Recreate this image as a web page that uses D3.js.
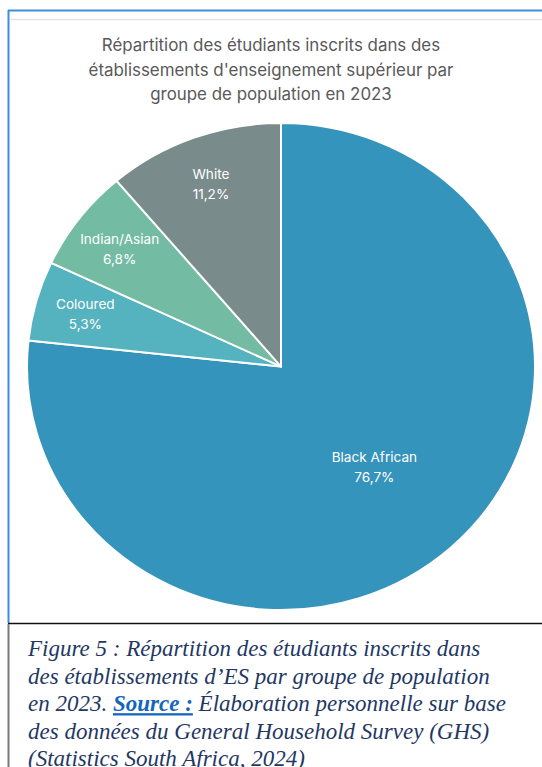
<!DOCTYPE html>
<html>
<head>
<meta charset="utf-8">
<script src="https://cdn.jsdelivr.net/npm/d3@7"></script>
<style>
  html, body { margin: 0; padding: 0; background: #fff; }
  svg { display: block; }
</style>
</head>
<body>
<svg id="chart" width="542" height="767"></svg>
<script>
// Population groups and their share of enrolled students (%)
const categories = ["Black African", "Coloured", "Indian/Asian", "White"];
const shares = [76.7, 5.3, 6.8, 11.2];
const shareLabels = ["76,7%", "5,3%", "6,8%", "11,2%"];
const sliceColors = ["#3594bb", "#55b3c0", "#73bca3", "#798b8b"];

const titleLines = [
  "Répartition des étudiants inscrits dans des",
  "établissements d'enseignement supérieur par",
  "groupe de population en 2023"
];

const svg = d3.select("#chart");

// Page frame: blue rule for the chart box, black rule and grey margin for the caption
svg.append("line").attr("x1", 8).attr("x2", 542).attr("y1", 10.5).attr("y2", 10.5)
  .attr("stroke", "#3d8fdc").attr("stroke-width", 2);
svg.append("line").attr("x1", 8.5).attr("x2", 8.5).attr("y1", 10).attr("y2", 623)
  .attr("stroke", "#3d8fdc").attr("stroke-width", 2);
svg.append("line").attr("x1", 10).attr("x2", 542).attr("y1", 19.5).attr("y2", 19.5)
  .attr("stroke", "#e4e4e4").attr("stroke-width", 1.5);
svg.append("line").attr("x1", 8).attr("x2", 542).attr("y1", 623.5).attr("y2", 623.5)
  .attr("stroke", "#111").attr("stroke-width", 1.5);
svg.append("line").attr("x1", 8.5).attr("x2", 8.5).attr("y1", 624).attr("y2", 767)
  .attr("stroke", "#7a7a7a").attr("stroke-width", 2);

// Title
svg.append("text")
  .attr("text-anchor", "middle")
  .attr("font-family", "Inter, 'Open Sans', sans-serif")
  .attr("font-size", 16.9)
  .attr("fill", "#595959")
  .selectAll("tspan")
  .data(titleLines)
  .join("tspan")
  .attr("x", 271)
  .attr("y", (d, i) => 51 + i * 24.5)
  .text(d => d);

// Pie (slightly flattened vertically)
const cx = 281, cy = 366.5, R = 254, squash = 243.5 / 254;
const data = categories.map((c, i) => ({ name: c, value: shares[i], label: shareLabels[i], color: sliceColors[i] }));

const pie = d3.pie().value(d => d.value).sort(null);
const arcs = pie(data);
const arc = d3.arc().innerRadius(0).outerRadius(R);

const g = svg.append("g").attr("transform", `translate(${cx},${cy}) scale(1,${squash})`);
g.selectAll("path")
  .data(arcs)
  .join("path")
  .attr("d", arc)
  .attr("fill", d => d.data.color)
  .attr("stroke", "#fff")
  .attr("stroke-width", 2)
  .attr("stroke-linejoin", "round");

// Data labels: the large slice's label sits further inside
const labelRadius = d => (d.endAngle - d.startAngle > Math.PI ? 0.55 : 0.8) * R;
const labels = svg.append("g")
  .attr("font-family", "Inter, 'Open Sans', sans-serif")
  .attr("font-size", 13.6)
  .attr("fill", "#fff")
  .attr("text-anchor", "middle");

labels.selectAll("text")
  .data(arcs)
  .join("text")
  .each(function (d) {
    const r = labelRadius(d);
    const a = (d.startAngle + d.endAngle) / 2;
    const x = cx + Math.sin(a) * r;
    const y = cy - Math.cos(a) * r * squash;
    const t = d3.select(this);
    t.append("tspan").attr("x", x).attr("y", y - 4.5).text(d.data.name);
    t.append("tspan").attr("x", x).attr("y", y + 15.5).text(d.data.label);
  });

// Figure caption
const capFont = "'Liberation Serif', 'Times New Roman', serif";
const cap = svg.append("text")
  .attr("font-family", capFont)
  .attr("font-style", "italic")
  .attr("font-size", 23)
  .attr("fill", "#1f3864");

const capLines = [
  [{ t: "Figure 5 : Répartition des étudiants inscrits dans" }],
  [{ t: "des établissements d’ES par groupe de population" }],
  [{ t: "en 2023. " }, { t: "Source :", link: true }, { t: " Élaboration personnelle sur base" }],
  [{ t: "des données du General Household Survey (GHS)" }],
  [{ t: "(Statistics South Africa, 2024)" }]
];

capLines.forEach((parts, i) => {
  parts.forEach((p, j) => {
    const ts = cap.append("tspan").text(p.t);
    if (j === 0) ts.attr("x", 28).attr("y", 656 + i * 27.6);
    if (p.link) {
      ts.attr("font-weight", "bold").attr("fill", "#1565c0").attr("text-decoration", "underline");
    }
  });
});
</script>
</body>
</html>
